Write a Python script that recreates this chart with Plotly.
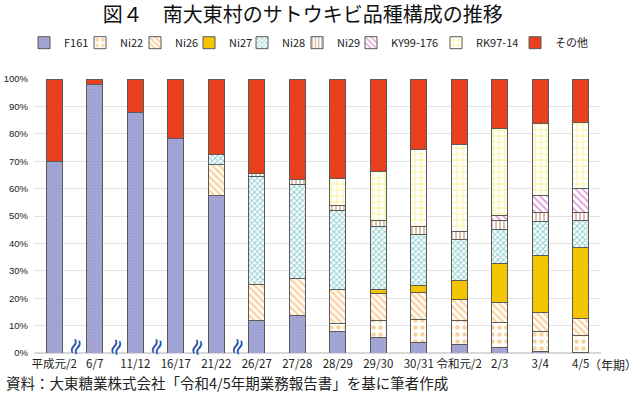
import plotly.graph_objects as go

categories = ["平成元/2", "6/7", "11/12", "16/17", "21/22", "26/27", "27/28",
              "28/29", "29/30", "30/31", "令和元/2", "2/3", "3/4", "4/5"]

F161 = [70.0, 98.0, 87.7, 78.3, 57.5, 11.9, 13.8, 7.9, 5.5, 3.8, 3.2, 2.1, 0.6, 0.3]
Ni22 = [None, None, None, None, None, None, None, 2.8, 6.2, 8.5, 8.7, 9.0, 7.3, 6.0]
Ni26 = [None, None, None, None, 11.4, 13.2, 13.4, 12.6, 10.0, 9.7, 7.6, 7.5, 7.0, 6.2]
Ni27 = [None, None, None, None, None, None, None, None, 1.6, 2.7, 6.8, 14.2, 20.7, 25.9]
Ni28 = [None, None, None, None, 3.5, 39.2, 34.3, 28.8, 23.0, 18.5, 15.1, 12.3, 12.4, 10.1]
Ni29 = [None, None, None, None, None, 1.2, 1.8, 1.7, 2.1, 3.1, 2.9, 3.3, 3.2, 2.7]
KY99_176 = [None, None, None, None, None, None, None, None, None, None, None, 1.7, 6.4, 9.0]
RK97_14 = [None, None, None, None, None, None, None, 9.9, 18.0, 28.1, 31.9, 31.9, 26.1, 24.1]
Other = [30.0, 2.0, 12.3, 21.7, 27.6, 34.5, 36.7, 36.3, 33.6, 25.6, 23.8, 18.0, 16.3, 15.7]

ytick_vals = [0, 10, 20, 30, 40, 50, 60, 70, 80, 90, 100]
ytick_text = ["0%", "10%", "20%", "30%", "40%", "50%", "60%", "70%", "80%", "90%", "100%"]
break_positions = [0.5, 1.5, 2.5, 3.5, 4.5]

FONT = "Noto Sans CJK JP"

# name, values, style, legend entry width
series = [
    ("F161", F161, dict(bgcolor="#a4a7d6", fgcolor="#8f92c4", shape=".", size=3, solidity=0.3), 11),
    ("Ni22", Ni22, dict(bgcolor="#ffffff", fgcolor="#f5a53a", shape=".", size=7, solidity=0.35), 10),
    ("Ni26", Ni26, dict(bgcolor="#ffffff", fgcolor="#f7a94a", shape="\\", size=5, solidity=0.5), 9),
    ("Ni27", Ni27, dict(shape=""), 8),
    ("Ni28", Ni28, dict(bgcolor="#ffffff", fgcolor="#23a0a3", shape="x", size=4, solidity=0.45), 10),
    ("Ni29", Ni29, dict(bgcolor="#ffffff", fgcolor="#a0643c", shape="|", size=4, solidity=0.4), 9),
    ("KY99-176", KY99_176, dict(bgcolor="#ffffff", fgcolor="#c040b0", shape="\\", size=5, solidity=0.35), 40),
    ("RK97-14", RK97_14, dict(bgcolor="#ffffff", fgcolor="#f0e628", shape="+", size=6, solidity=0.3), 34),
    ("その他", Other, dict(shape=""), 34),
]
solid_colors = {"Ni27": "#f5c400", "その他": "#e8401c"}

fig = go.Figure()
for name, vals, pat, lw in series:
    marker = dict(line=dict(color="#5a5a5a", width=1))
    if name in solid_colors:
        marker["color"] = solid_colors[name]
    else:
        marker["color"] = pat["bgcolor"]
        marker["pattern"] = dict(shape=pat["shape"], fgcolor=pat["fgcolor"],
                                 bgcolor=pat["bgcolor"], size=pat["size"],
                                 solidity=pat["solidity"], fillmode="overlay")
    fig.add_trace(go.Bar(name=name, x=categories, y=vals, marker=marker, legendwidth=lw))

for xp in break_positions:
    fig.add_annotation(x=xp, y=0, xref="x", yref="y", text="≈", showarrow=False,
                       textangle=-70, yshift=6,
                       font=dict(size=22, color="#1a4fa8", family="DejaVu Sans"))

fig.add_annotation(x=1.0, y=0, xref="paper", yref="paper", text="（年期）",
                   showarrow=False, xanchor="right", yanchor="middle", xshift=38, yshift=-11,
                   font=dict(size=12, color="#222222", family=FONT))

fig.add_annotation(x=0, y=0, xref="paper", yref="paper",
                   text="資料：大東糖業株式会社「令和4/5年期業務報告書」を基に筆者作成",
                   showarrow=False, xanchor="left", yanchor="middle", xshift=-30, yshift=-29,
                   font=dict(size=14.5, color="#222222", family=FONT))

fig.update_layout(
    width=640, height=398,
    margin=dict(l=34, r=39, t=79, b=45, autoexpand=False),
    paper_bgcolor="white", plot_bgcolor="white",
    barmode="stack", bargap=0.6,
    font=dict(family=FONT, size=11, color="#222222"),
    title=dict(text="図４　南大東村のサトウキビ品種構成の推移", x=0.473, xanchor="center",
               xref="container", yref="container", y=0.963, yanchor="middle",
               font=dict(size=20, color="#111111", family=FONT)),
    legend=dict(orientation="h", x=-0.0176, xanchor="left", y=1.1325, yanchor="middle",
                font=dict(size=11, family=FONT), itemwidth=30, traceorder="normal"),
    showlegend=True,
)
fig.update_xaxes(type="category", showgrid=False, showline=False, ticks="",
                 tickfont=dict(size=11.5, family=FONT), tickangle=0, ticklabelstandoff=2)
fig.update_yaxes(range=[0, 100], tickvals=ytick_vals, ticktext=ytick_text, showgrid=True,
                 gridcolor="#e3e3e3", gridwidth=1, zeroline=True, zerolinecolor="#d8d8d8",
                 showline=False, ticklabelstandoff=5,
                 tickfont=dict(size=9.5, family="Liberation Sans"))

fig.write_html("out.html", config={"displayModeBar": False},
               post_script="document.body.style.margin='0px';")
